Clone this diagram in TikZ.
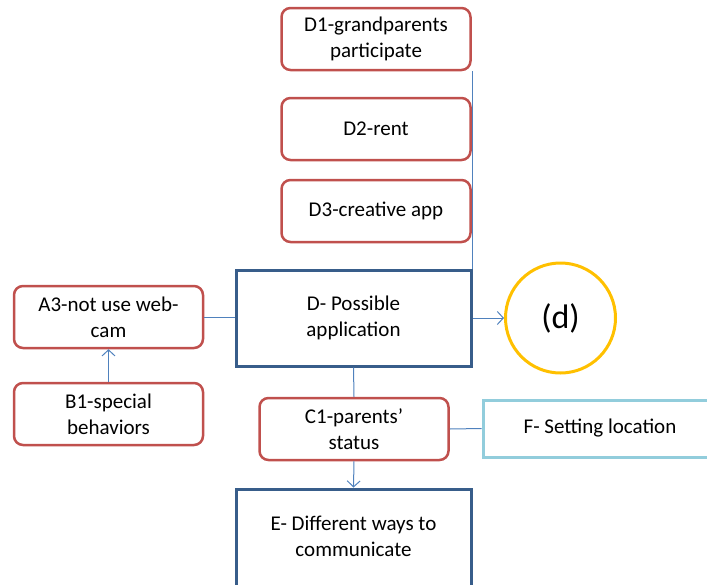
\documentclass[tikz,border=0pt]{standalone}
\usepackage{fontspec}
\setmainfont{Carlito}
\usetikzlibrary{arrows.meta}
\definecolor{boxred}{HTML}{C0504D}
\definecolor{boxblue}{HTML}{385D8A}
\definecolor{linkblue}{HTML}{4F81BD}
\definecolor{lightcyan}{HTML}{92CDDC}
\definecolor{gold}{HTML}{FFC000}
\begin{document}
\begin{tikzpicture}[x=1pt, y=-1pt,
      every node/.append style={font=\fontsize{21}{26}\selectfont, align=center, inner sep=0pt},
      redbox/.style={draw=boxred, line width=2.5pt, rounded corners=9pt, fill=white, minimum width=189pt, minimum height=62pt},
      bluebox/.style={draw=boxblue, line width=3pt, fill=white, minimum width=235pt, minimum height=96pt},
      cyanbox/.style={draw=lightcyan, line width=3pt, fill=white, minimum width=240pt, minimum height=57pt},
      link/.style={draw=linkblue, line width=1pt},
      linkarrow/.style={link, -{Straight Barb[length=6pt,width=13pt]}}]
    \clip (0,0) rectangle (707,584);
    \node (D1) [redbox] at (376,39) {D1-grandparents\\participate};
    \node (D2) [redbox] at (376,129) {D2-rent};
    \node (D3) [redbox] at (376,211) {D3-creative app};
    \node (D) [bluebox] at (353.5,318) {D- Possible\\application};
    \node (d) [draw=gold, line width=3pt, circle, minimum size=110pt, font=\fontsize{34}{36}\selectfont] at (560.5,318) {(d)};
    \node (A3) [redbox] at (108.5,317) {A3-not use web-\\cam};
    \node (B1) [redbox] at (108.5,414) {B1-special\\behaviors};
    \node (C1) [redbox] at (354,429) {C1-parents'\\status};
    \node (F) [cyanbox] at (603,428.5) {\hspace*{-6pt}F- Setting location};
    \node (E) [bluebox, minimum height=110pt] at (353.5,544) {};
    \node (Etext) at (353.5,536) {E- Different ways to\\communicate};
    % connectors
    \draw [link] (D.north east |- D1.south) -- (D.north east);
    \draw [linkarrow] (D.east) -- (d.west);
    \draw [link] (A3.east) -- (D.west |- A3.east);
    \draw [linkarrow] (B1.north) -- (A3.south);
    \draw [link] (D.south) -- (C1.north);
    \draw [linkarrow] (C1.south) -- (E.north);
    \draw [link] (C1.east) -- (F.west);
\end{tikzpicture}
\end{document}
